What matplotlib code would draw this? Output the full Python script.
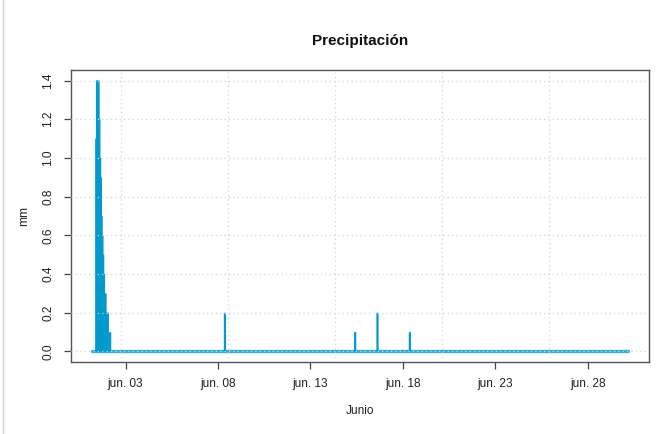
import numpy as np
import pandas as pd
import matplotlib
matplotlib.use("Agg")
import matplotlib.pyplot as plt
import matplotlib.dates as mdates
from matplotlib.lines import Line2D

matplotlib.rcParams["font.family"] = ["Liberation Sans", "DejaVu Sans"]

# serie horaria (UTC) de precipitación, junio
hora_inicio = "2019-06-01 05:00"
hora_fin = "2019-06-30 04:00"
horas_lluvia = [
    "2019-06-01 10:00", "2019-06-01 11:00", "2019-06-01 12:00", "2019-06-01 13:00",
    "2019-06-01 14:00", "2019-06-01 15:00", "2019-06-01 16:00", "2019-06-01 17:00",
    "2019-06-01 18:00", "2019-06-01 19:00", "2019-06-01 20:00", "2019-06-01 21:00",
    "2019-06-01 22:00", "2019-06-01 23:00", "2019-06-02 00:00", "2019-06-02 01:00",
    "2019-06-02 04:00",
    "2019-06-08 09:00", "2019-06-15 10:00", "2019-06-16 15:00", "2019-06-18 09:00",
]
lluvia_mm = [
    1.1, 1.4, 1.4, 1.4,
    1.2, 1.0, 0.9, 0.7,
    0.6, 0.5, 0.4, 0.3,
    0.3, 0.2, 0.2, 0.2,
    0.1,
    0.2, 0.1, 0.2, 0.1,
]
marcas_x = ["2019-06-03", "2019-06-08", "2019-06-13", "2019-06-18", "2019-06-23", "2019-06-28"]
etiquetas_x = ["jun. 03", "jun. 08", "jun. 13", "jun. 18", "jun. 23", "jun. 28"]
marcas_y = [0.0, 0.2, 0.4, 0.6, 0.8, 1.0, 1.2, 1.4]

serie = pd.Series(0.0, index=pd.date_range(hora_inicio, hora_fin, freq="h"))
serie[pd.to_datetime(horas_lluvia)] = lluvia_mm
t = mdates.date2num(serie.index.to_pydatetime())
v = serie.values

azul = "#009ACD"

fig = plt.figure(figsize=(6.71, 4.34), dpi=100)
ax = fig.add_axes([0.1058, 0.1652, 0.8619, 0.6742])

ax.vlines(t, 0, v, color=azul, lw=1.6, snap=False)
ax.plot(t, np.zeros(len(t)), color=azul, lw=2.4, solid_capstyle="round", alpha=0.8)

# rangos estilo R (4% extra)
dx = (t[-1] - t[0]) * 0.04
ax.set_xlim(t[0] - dx, t[-1] + dx)
dy = (max(v) - 0) * 0.04
ax.set_ylim(-dy, max(v) + dy)

# rejilla: cada 500000 s como grid() de R
seg = np.arange(np.ceil((t[0] - dx) * 86400 / 500000), np.floor((t[-1] + dx) * 86400 / 500000) + 1) * 500000
for g in seg / 86400:
    ax.axvline(g, color="#d3d3d3", lw=0.9, ls=(0, (1, 2.5)), zorder=3)
for g in marcas_y:
    ax.axhline(g, color="#d3d3d3", lw=0.9, ls=(0, (1, 2.5)), zorder=3)

ax.set_xticks(mdates.date2num(pd.to_datetime(marcas_x).to_pydatetime()))
ax.set_xticklabels(etiquetas_x)
ax.set_yticks(marcas_y)
ax.set_yticklabels([f"{y:.1f}" for y in marcas_y], rotation=90, va="center")
ax.tick_params(axis="both", length=5, width=0.9, color="#444444", labelsize=8.6,
               labelcolor="#222222")
ax.tick_params(axis="x", pad=6)
ax.tick_params(axis="y", pad=7)
for s in ax.spines.values():
    s.set_color("#555555")
    s.set_linewidth(1.0)

ax.set_xlabel("Junio", fontsize=8.6, color="#222222", labelpad=11)
ax.set_ylabel("mm", fontsize=8.6, color="#222222", labelpad=9)
fig.text(0.1058 + 0.8619 / 2, 1 - 41 / 434, "Precipitación", ha="center",
         va="center", fontsize=11, fontweight="bold", color="#111111")

fig.add_artist(Line2D([3 / 671, 3 / 671], [0, 1], color="#d0d0d0", lw=1.0))

fig.savefig("out.png", dpi=100)
